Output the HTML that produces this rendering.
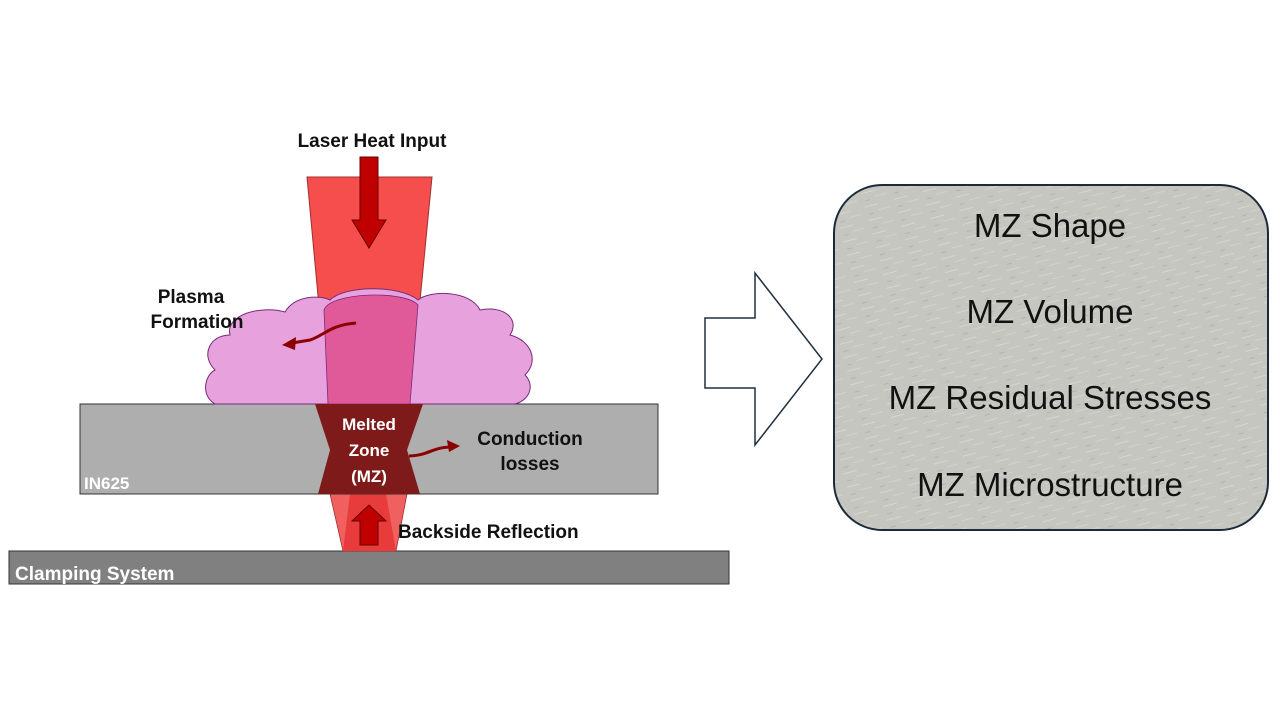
<!DOCTYPE html>
<html><head><meta charset="utf-8"><style>
html,body{margin:0;padding:0;background:#fff;}
svg{display:block;}
</style></head><body>
<svg width="1280" height="720" viewBox="0 0 1280 720" xmlns="http://www.w3.org/2000/svg" font-family="'Liberation Sans', sans-serif">
<defs>
<pattern id="tex" width="30" height="14" patternUnits="userSpaceOnUse" patternTransform="rotate(-15)">
<rect width="30" height="14" fill="#c6c6c0"/>
<line x1="2" y1="4" x2="16" y2="4" stroke="#d6d6cf" stroke-width="1"/>
<line x1="14" y1="10" x2="26" y2="10" stroke="#d2d2cb" stroke-width="1"/>
<line x1="4" y1="12" x2="9" y2="12" stroke="#b4b4ad" stroke-width="1"/>
</pattern>
</defs>
<!-- clamp -->
<rect x="9" y="551" width="720" height="33" fill="#808080" stroke="#333" stroke-width="1"/>
<text x="15" y="580" font-size="19" font-weight="bold" fill="#fff">Clamping System</text>
<!-- lower beam -->
<polygon points="330,494 407,494 396,551 343,551" fill="#f0605e" stroke="#a03030" stroke-width="0.8"/>
<polygon points="350,494 386,494 396,551 343,551" fill="#e83c3c"/>
<polygon points="369,505 386,521 378,521 378,545 360,545 360,521 352,521" fill="#c00000" stroke="#600" stroke-width="1"/>
<!-- plate -->
<rect x="80" y="404" width="578" height="90" fill="#aeaeae" stroke="#333" stroke-width="1"/>
<text x="84" y="489" font-size="17" font-weight="bold" fill="#fff">IN625</text>
<!-- upper beam -->
<polygon points="307,177 432,177 410,404 328,404" fill="#f64d4d" stroke="#a03030" stroke-width="1"/>
<!-- cloud -->
<path d="M215,404 C200,395 205,375 215,370 C200,355 210,335 230,335 C225,315 260,305 285,312 C295,295 320,295 330,300 C345,285 400,285 418,300 C430,290 470,290 480,310 C505,305 520,320 510,335 C530,340 540,360 525,375 C535,385 530,400 515,404 Z" fill="#e7a2de" stroke="#7a2a7a" stroke-width="1"/>
<!-- beam through cloud -->
<path d="M324,310 C330,292 405,290 418,305 L410,404 L328,404 Z" fill="#e05a9a" stroke="#7a2a7a" stroke-width="0.8"/>
<!-- melted zone -->
<polygon points="315,404 423,404 407,450 420,494 318,494 330,450" fill="#7f1a1a"/>
<text x="369" y="430" font-size="17" font-weight="bold" fill="#fff" text-anchor="middle">Melted</text>
<text x="369" y="456" font-size="17" font-weight="bold" fill="#fff" text-anchor="middle">Zone</text>
<text x="369" y="482" font-size="17" font-weight="bold" fill="#fff" text-anchor="middle">(MZ)</text>
<!-- down arrow -->
<polygon points="360,157 378,157 378,220 386,220 369,248 352,220 360,220" fill="#c00000" stroke="#600" stroke-width="1"/>
<!-- curved arrows -->
<path d="M356,323 C330,325 325,335 310,340 L292,343" fill="none" stroke="#8b0000" stroke-width="3"/>
<polygon points="282,345 296,337 295,350" fill="#8b0000"/>
<path d="M409,456 C430,455 430,448 450,447" fill="none" stroke="#8b0000" stroke-width="3"/>
<polygon points="460,446 447,440 449,452" fill="#8b0000"/>
<!-- labels -->
<g font-size="19" font-weight="bold" fill="#111">
<text x="372" y="147" text-anchor="middle">Laser Heat Input</text>
<text x="191" y="303" text-anchor="middle">Plasma</text>
<text x="197" y="328" text-anchor="middle">Formation</text>
<text x="530" y="445" text-anchor="middle">Conduction</text>
<text x="530" y="470" text-anchor="middle">losses</text>
<text x="398" y="538">Backside Reflection</text>
</g>
<!-- block arrow -->
<polygon points="705,318 755,318 755,273 822,359 755,445 755,388 705,388" fill="#fff" stroke="#1f3040" stroke-width="1.5"/>
<!-- right box -->
<rect x="834" y="185" width="434" height="345" rx="48" fill="url(#tex)" stroke="#1b2b3a" stroke-width="2"/>
<g font-size="33" fill="#111" text-anchor="middle">
<text x="1050" y="237">MZ Shape</text>
<text x="1050" y="323">MZ Volume</text>
<text x="1050" y="409">MZ Residual Stresses</text>
<text x="1050" y="496">MZ Microstructure</text>
</g>
</svg>
</body></html>
